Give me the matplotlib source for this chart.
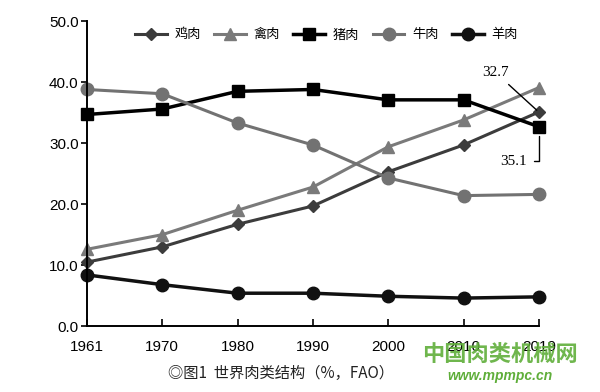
import matplotlib.pyplot as plt

plt.rcParams['font.family'] = ['Liberation Sans', 'Noto Sans CJK SC', 'DejaVu Sans']

years = ['1961', '1970', '1980', '1990', '2000', '2010', '2019']
chicken = [10.5, 13.0, 16.7, 19.7, 25.3, 29.7, 35.1]
poultry = [12.6, 15.0, 19.0, 22.8, 29.4, 33.8, 39.1]
pork = [34.7, 35.6, 38.5, 38.8, 37.1, 37.1, 32.7]
beef = [38.8, 38.1, 33.3, 29.7, 24.3, 21.4, 21.6]
mutton = [8.4, 6.8, 5.4, 5.4, 4.9, 4.6, 4.8]
yticks = [0, 10, 20, 30, 40, 50]

fig = plt.figure(figsize=(6, 3.92), dpi=100)
ax = fig.add_axes([0.145, 0.168, 0.753, 0.778])
x = list(range(len(years)))

ax.plot(x, chicken, color='#3c3c3c', marker='D', markersize=6, lw=2.2, label='鸡肉')
ax.plot(x, poultry, color='#7a7a7a', marker='^', markersize=8, lw=2.2, label='禽肉')
ax.plot(x, pork, color='#000000', marker='s', markersize=9, lw=2.5, label='猪肉')
ax.plot(x, beef, color='#727272', marker='o', markersize=9, lw=2.2, label='牛肉')
ax.plot(x, mutton, color='#111111', marker='o', markersize=9, lw=2.5, label='羊肉')

ax.set_xlim(0, 6)
ax.set_ylim(0, 50)
ax.set_xticks(x)
ax.set_xticklabels(years, fontsize=11)
ax.set_yticks(yticks)
ax.set_yticklabels(['%.1f' % v for v in yticks], fontsize=11)
ax.tick_params(axis='x', direction='in', length=5, width=1.2, pad=10)
ax.tick_params(axis='y', direction='out', length=4, width=1.2, pad=2)
for s in ['top', 'right']:
    ax.spines[s].set_visible(False)
for s in ['left', 'bottom']:
    ax.spines[s].set_linewidth(1.4)
for ln in ax.lines:
    ln.set_clip_on(False)

# 标注（引线画在最上层）
a1 = ax.annotate('32.7', xy=(6, 35.1), xytext=(5.6, 41.6), fontsize=11,
                 family='Liberation Serif', ha='right', va='center',
                 arrowprops=dict(arrowstyle='-', color='black', lw=1,
                                 shrinkA=3, shrinkB=2,
                                 connectionstyle='arc3,rad=0'))
a2 = ax.annotate('35.1', xy=(6, 32.7), xytext=(5.84, 27.0), fontsize=11,
                 family='Liberation Serif', ha='right', va='center',
                 arrowprops=dict(arrowstyle='-', color='black', lw=1,
                                 shrinkA=3, shrinkB=7,
                                 connectionstyle='angle,angleA=0,angleB=90,rad=0'))
a1.set_zorder(5)
a2.set_zorder(5)

ax.legend(loc='center', bbox_to_anchor=(0.53, 0.955), ncol=5, frameon=False,
          handlelength=2.4, columnspacing=1.0, handletextpad=0.6,
          prop={'family': ['Noto Sans CJK SC'], 'size': 9.5})

fig.text(0.468, 0.048, '◎图1  世界肉类结构（%，FAO）', ha='center', va='center',
         fontsize=11, family=['Noto Sans CJK SC', 'DejaVu Sans'], color='#222222')

# 水印
fig.text(0.833, 0.095, '中国肉类机械网', ha='center', va='center', fontsize=16,
         family=['Noto Sans CJK SC'], color='#5fae3a', fontweight='bold', alpha=0.9)
fig.text(0.833, 0.04, 'www.mpmpc.cn', ha='center', va='center', fontsize=10,
         style='italic', fontweight='bold', color='#5fae3a')

fig.savefig('out.png', dpi=100)
